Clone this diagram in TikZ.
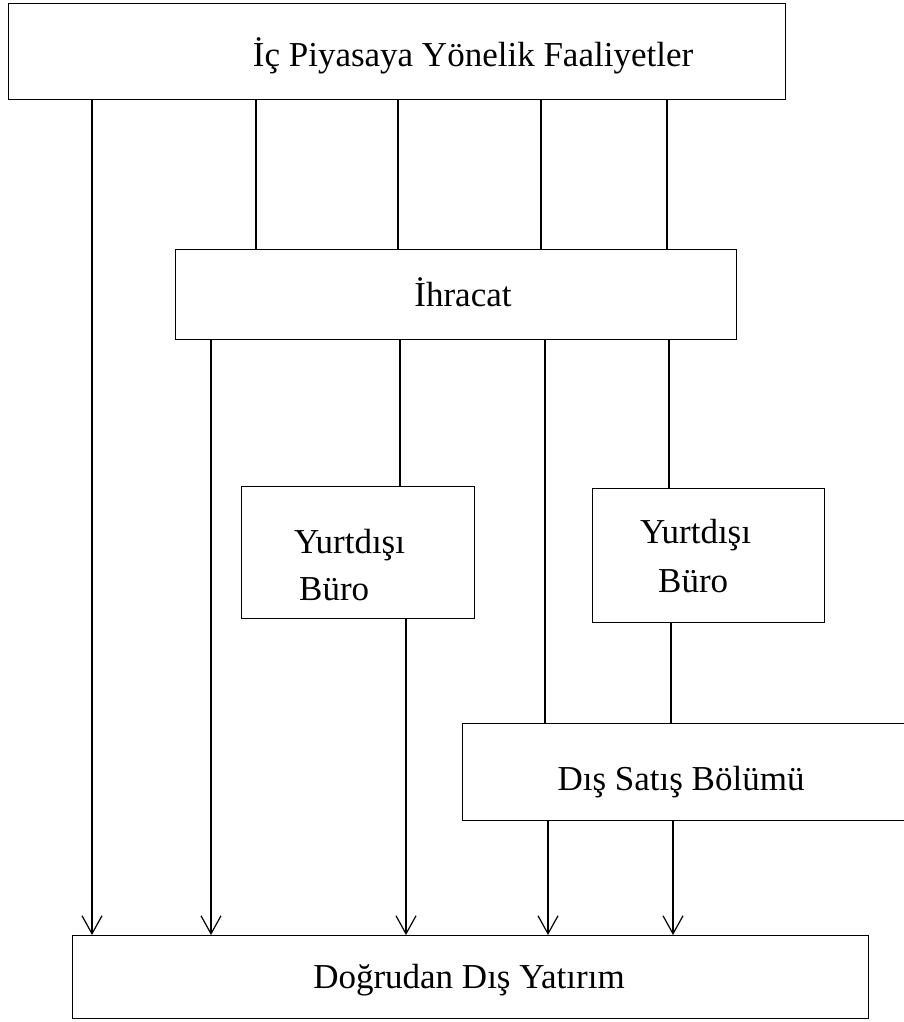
\documentclass[tikz,border=0pt]{standalone}
\usepackage{fontspec}
\setmainfont{Liberation Serif}
\usetikzlibrary{arrows.meta}
\begin{document}
\begin{tikzpicture}[x=1pt,y=-1pt,
  box/.style={draw, line width=1.3pt, rectangle, inner sep=0pt, anchor=north west},
  lbl/.style={font=\fontsize{35}{44}\selectfont, inner sep=0pt, anchor=base},
  conn/.style={line width=1.1pt},
  arr/.style={conn, -{Straight Barb[length=18pt,width=20pt,line width=1.2pt]}}]
\clip (0,0) rectangle (904,1022);
\fill[white] (0,0) rectangle (904,1022);
% boxes
\node[box, minimum width=777pt, minimum height=96pt] (top) at (8,3) {};
\node[box, minimum width=561pt, minimum height=90pt] (ihr) at (175,249) {};
\node[box, minimum width=233pt, minimum height=132pt] (yb1) at (241,486) {};
\node[box, minimum width=232pt, minimum height=134pt] (yb2) at (592,488) {};
\node[box, minimum width=460pt, minimum height=97pt] (dss) at (462,723) {};
\node[box, minimum width=796pt, minimum height=83pt] (bot) at (72,935) {};
% labels
\node[lbl] (ttop) at (473,67) {İç Piyasaya Yönelik Faaliyetler};
\node[lbl] (tihr) at (463,306) {İhracat};
\node[lbl, anchor=base west] (ty1a) at (294,553) {Yurtdışı};
\node[lbl, anchor=base west] (ty1b) at (299,600) {Büro};
\node[lbl, anchor=base west] (ty2a) at (640,543) {Yurtdışı};
\node[lbl, anchor=base west] (ty2b) at (658,592) {Büro};
\node[lbl] (tdss) at (681,790) {Dış Satış Bölümü};
\node[lbl] (tbot) at (469,988) {Doğrudan Dış Yatırım};
% x positions of connectors
\coordinate (a1) at (92,0);
\coordinate (a2) at (256,0);
\coordinate (a3) at (398,0);
\coordinate (a4) at (541,0);
\coordinate (a5) at (667,0);
\coordinate (b1) at (211,0);
\coordinate (b2) at (400,0);
\coordinate (b3) at (545,0);
\coordinate (b4) at (669,0);
\coordinate (c1) at (406,0);
\coordinate (c2) at (671,0);
\coordinate (d1) at (548,0);
\coordinate (d2) at (673,0);
% connectors
\draw[arr] (top.south -| a1) -- (bot.north -| a1);
\draw[conn] (top.south -| a2) -- (ihr.north -| a2);
\draw[conn] (top.south -| a3) -- (ihr.north -| a3);
\draw[conn] (top.south -| a4) -- (ihr.north -| a4);
\draw[conn] (top.south -| a5) -- (ihr.north -| a5);
\draw[arr] (ihr.south -| b1) -- (bot.north -| b1);
\draw[conn] (ihr.south -| b2) -- (yb1.north -| b2);
\draw[conn] (ihr.south -| b3) -- (dss.north -| b3);
\draw[conn] (ihr.south -| b4) -- (yb2.north -| b4);
\draw[arr] (yb1.south -| c1) -- (bot.north -| c1);
\draw[conn] (yb2.south -| c2) -- (dss.north -| c2);
\draw[arr] (dss.south -| d1) -- (bot.north -| d1);
\draw[arr] (dss.south -| d2) -- (bot.north -| d2);
\end{tikzpicture}
\end{document}
